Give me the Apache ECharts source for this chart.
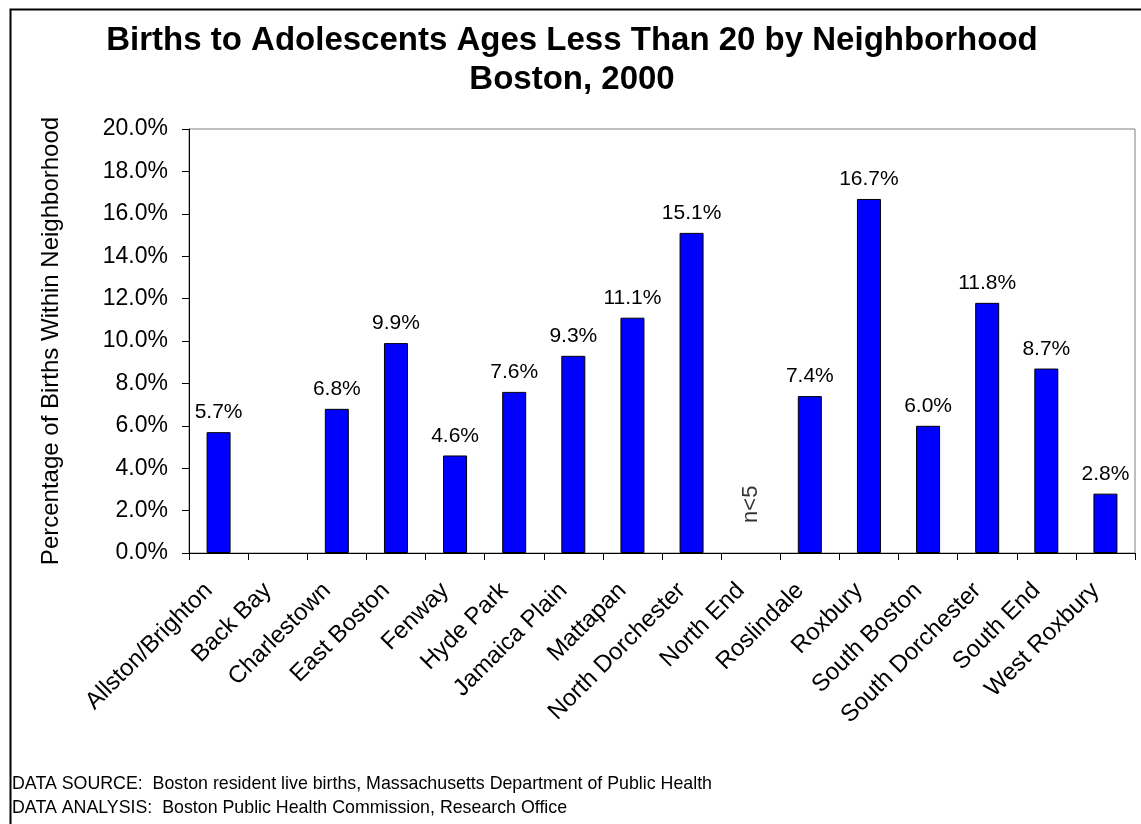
<!DOCTYPE html>
<html>
<head>
<meta charset="utf-8">
<script src="https://cdn.jsdelivr.net/npm/echarts@6/dist/echarts.min.js"></script>
<style>
html,body{margin:0;padding:0;background:#fff;}
#chart{width:1141px;height:824px;}
</style>
</head>
<body>
<div id="chart"></div>
<script>
const categories = ["Allston/Brighton","Back Bay","Charlestown","East Boston","Fenway","Hyde Park","Jamaica Plain","Mattapan","North Dorchester","North End","Roslindale","Roxbury","South Boston","South Dorchester","South End","West Roxbury"];
const values = [5.7, null, 6.8, 9.9, 4.6, 7.6, 9.3, 11.1, 15.1, null, 7.4, 16.7, 6.0, 11.8, 8.7, 2.8];
const noteCategory = "North End";
const noteText = "n<5";
const noteValue = 2.3;
const yTicks = [0, 2, 4, 6, 8, 10, 12, 14, 16, 18, 20];

const FONT = '"Liberation Sans", Arial, sans-serif';
const chart = echarts.init(document.getElementById('chart'), null, {renderer: 'canvas'});
chart.setOption({
  backgroundColor: '#ffffff',
  animation: false,
  title: {
    text: 'Births to Adolescents Ages Less Than 20 by Neighborhood\nBoston, 2000',
    left: 567,
    top: 16,
    textAlign: 'center',
    textStyle: {fontFamily: FONT, fontSize: 33, fontWeight: 'bold', color: '#000', lineHeight: 39}
  },
  grid: {left: 189, top: 129, right: 6, bottom: 271, show: true, borderColor: '#808080', borderWidth: 1, backgroundColor: '#fff'},
  xAxis: {
    type: 'category',
    data: categories,
    axisLine: {lineStyle: {color: '#000', width: 1}},
    axisTick: {show: true, length: 7, lineStyle: {color: '#000'}},
    axisLabel: {interval: 0, rotate: 45, margin: 24, padding: [0, 14, 0, 0], fontFamily: FONT, fontSize: 24, color: '#000'}
  },
  yAxis: {
    type: 'value',
    min: yTicks[0],
    max: yTicks[yTicks.length - 1],
    interval: yTicks[1] - yTicks[0],
    name: 'Percentage of Births Within Neighborhood',
    nameLocation: 'middle',
    nameGap: 126,
    nameTextStyle: {fontFamily: FONT, fontSize: 24, color: '#000'},
    splitLine: {show: false},
    axisLine: {show: true, lineStyle: {color: '#000', width: 1}},
    axisTick: {show: true, length: 7, lineStyle: {color: '#000'}},
    axisLabel: {margin: 21, fontFamily: FONT, fontSize: 23, color: '#000', formatter: v => v.toFixed(1) + '%'}
  },
  series: [
    {
      type: 'bar',
      data: values,
      barWidth: 24,
      itemStyle: {color: '#0000ff', borderColor: '#000', borderWidth: 1},
      label: {show: true, position: 'top', distance: 9, fontFamily: FONT, fontSize: 21, color: '#000', formatter: p => p.value.toFixed(1) + '%'}
    },
    {
      type: 'scatter',
      data: [[noteCategory, noteValue]],
      symbolSize: 0,
      label: {show: true, position: 'inside', rotate: 90, fontFamily: FONT, fontSize: 22, color: '#000', formatter: noteText}
    }
  ],
  graphic: [
    {type: 'rect', left: 8, top: 7, shape: {width: 1200, height: 1000}, style: {fill: 'none', stroke: '#000', lineWidth: 2}, z: 100},
    {type: 'text', left: 12, top: 775, style: {text: 'DATA SOURCE:  Boston resident live births, Massachusetts Department of Public Health', font: '17.8px ' + FONT, fill: '#000'}},
    {type: 'text', left: 12, top: 799, style: {text: 'DATA ANALYSIS:  Boston Public Health Commission, Research Office', font: '17.8px ' + FONT, fill: '#000'}}
  ]
});
</script>
</body>
</html>
